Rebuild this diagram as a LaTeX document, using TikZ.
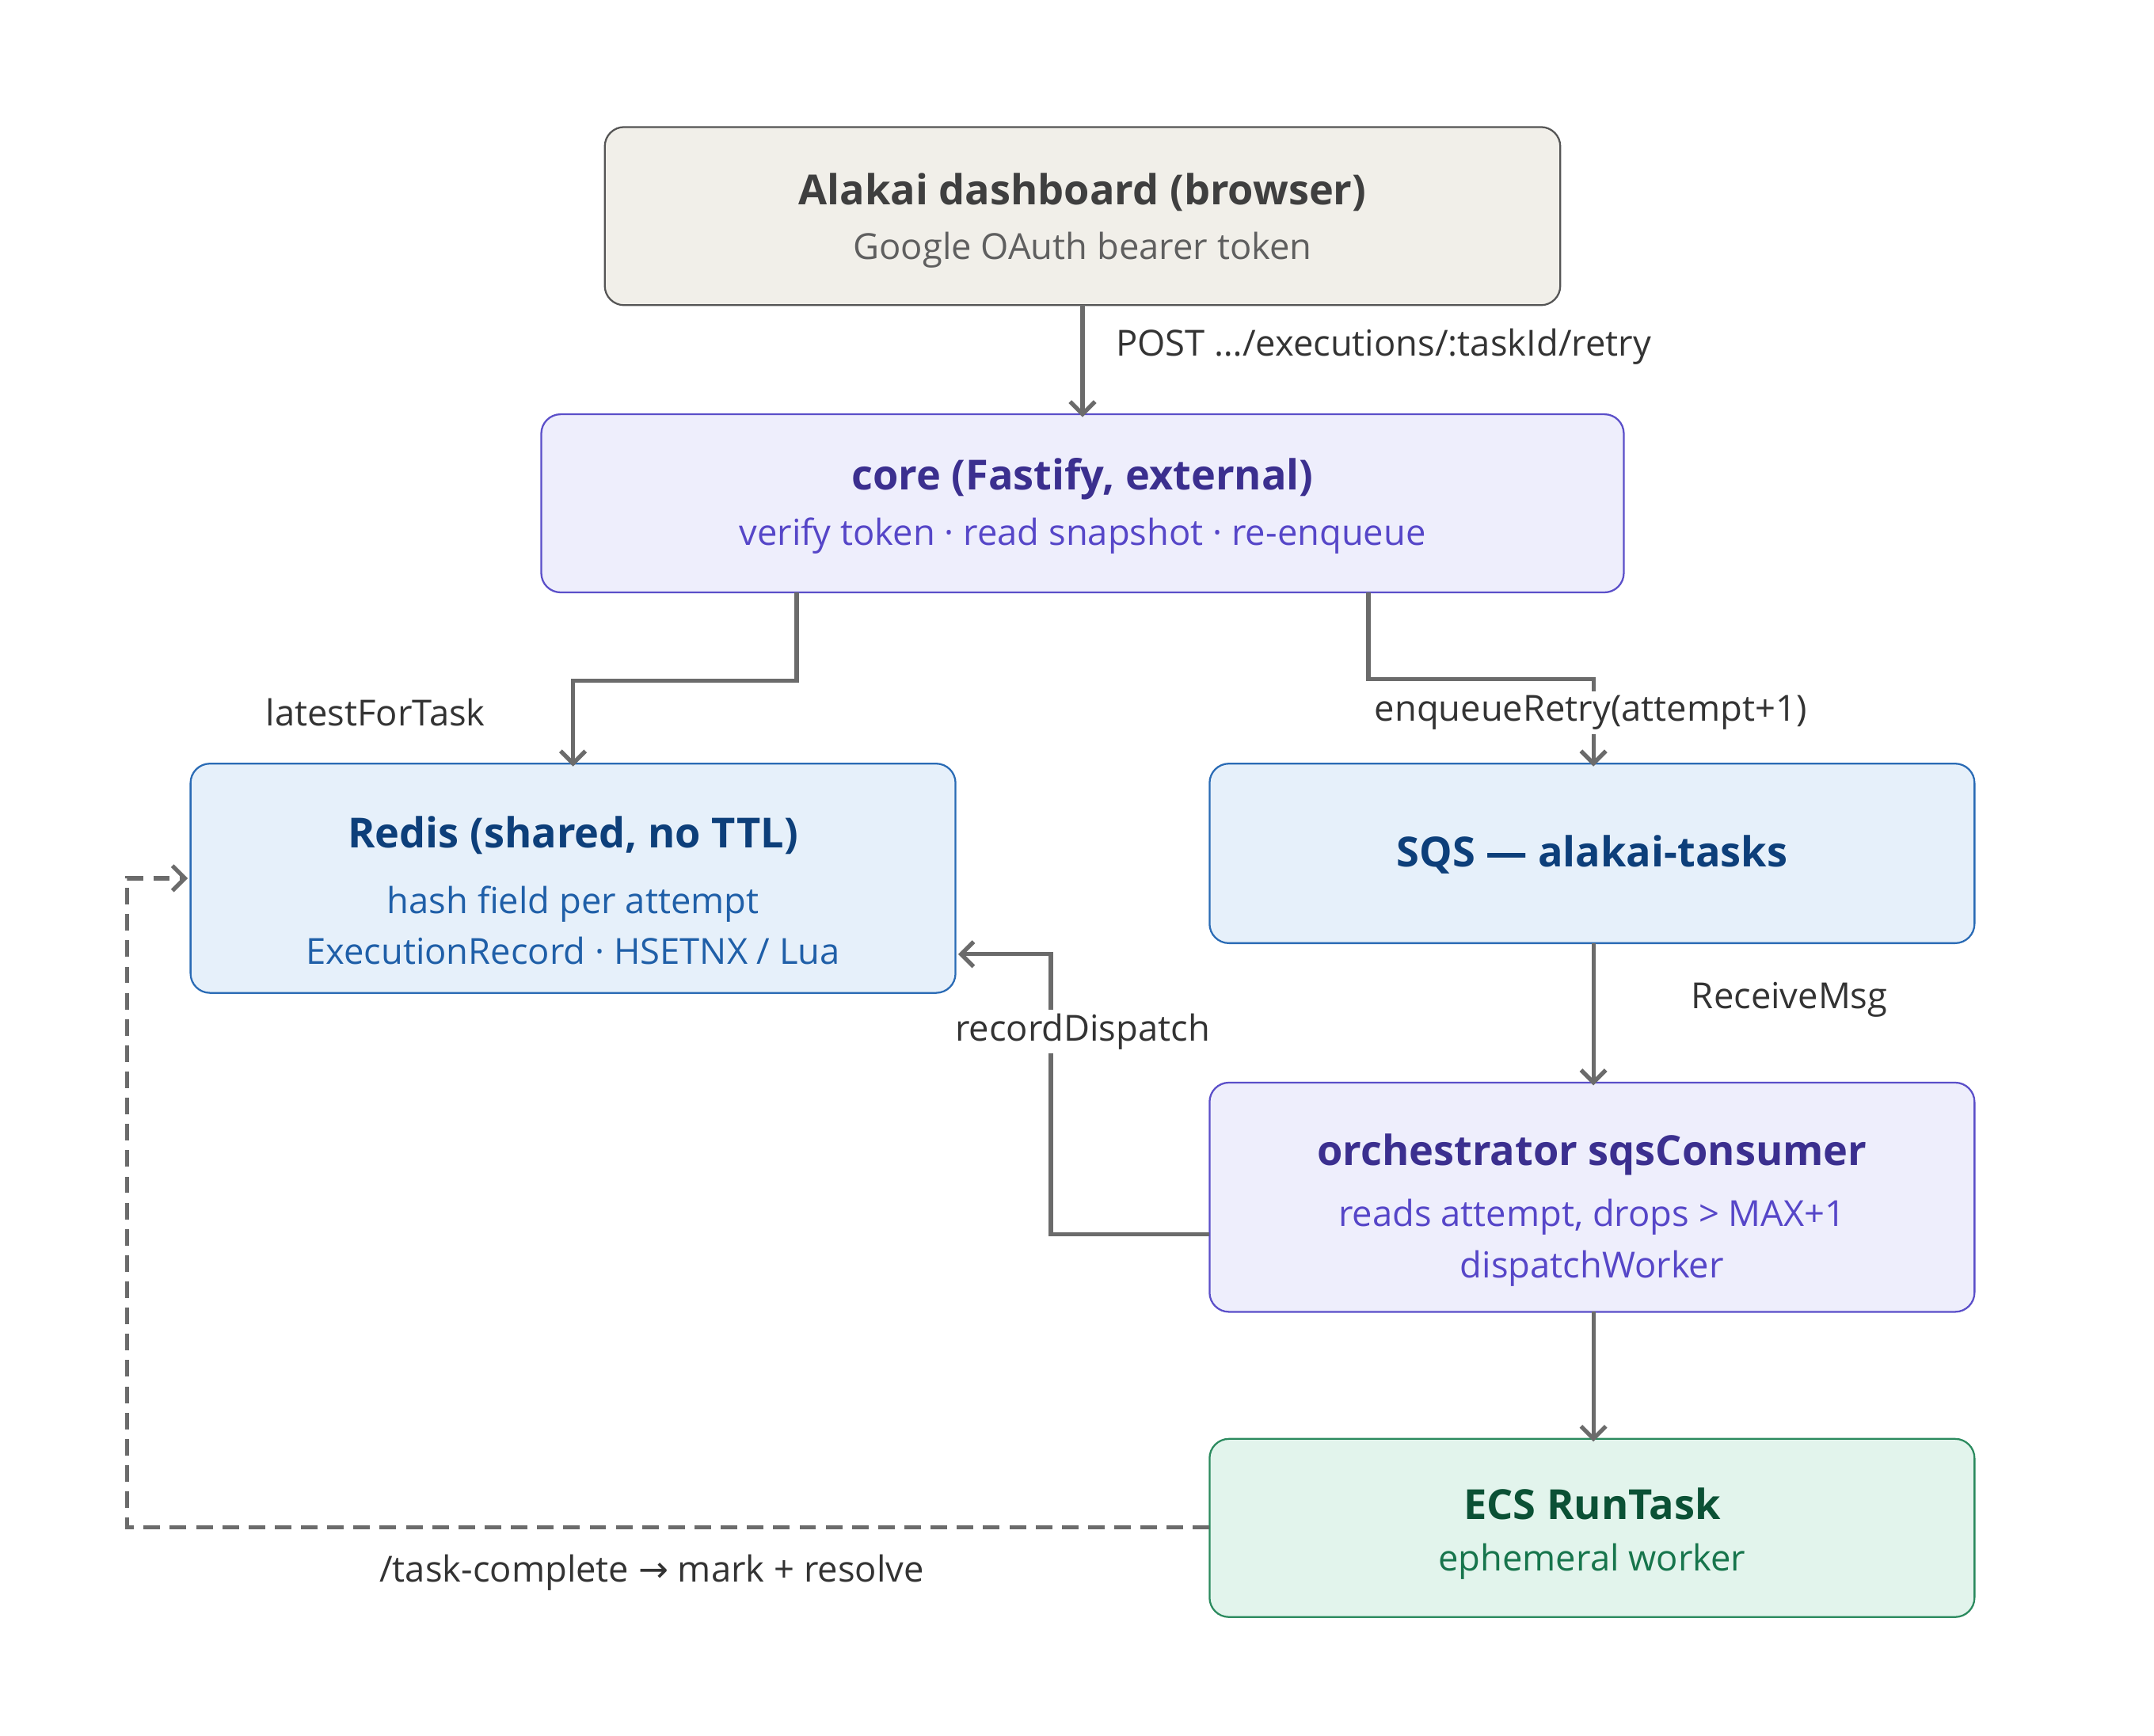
\documentclass[tikz,border=0pt]{standalone}
\usepackage{fontspec}
\setmainfont{Open Sans}
\newfontfamily\symf{DejaVu Sans}
\usetikzlibrary{arrows.meta}
\definecolor{lineg}{HTML}{6B6B6B}
\definecolor{gfill}{HTML}{F1EFE9}\definecolor{gdraw}{HTML}{555555}
\definecolor{gtit}{HTML}{3F3F3F}\definecolor{gsub}{HTML}{5F5F5F}
\definecolor{pfill}{HTML}{EEEEFC}\definecolor{pdraw}{HTML}{5B4FC9}
\definecolor{ptit}{HTML}{3B2F8F}\definecolor{psub}{HTML}{5646C8}
\definecolor{bfill}{HTML}{E6F0FA}\definecolor{bdraw}{HTML}{2A6BB5}
\definecolor{btit}{HTML}{0D3F7A}\definecolor{bsub}{HTML}{1F5FA8}
\definecolor{efill}{HTML}{E2F4EC}\definecolor{edraw}{HTML}{2B8A5E}
\definecolor{etit}{HTML}{0B5135}\definecolor{esub}{HTML}{17754C}
\tikzset{
 box/.style={rounded corners=14pt,line width=1.3pt,inner sep=0pt},
 conn/.style={draw=lineg,line width=3pt,-{Straight Barb[length=9pt,width=18pt,line width=3pt]}},
 lab/.style={font=\fontsize{26}{30}\selectfont,text=black!80,inner sep=3pt},
 tit/.style={font=\fontsize{30}{36}\selectfont\bfseries},
 sub/.style={font=\fontsize{26}{37}\selectfont,align=center}
}
\begin{document}
\begin{tikzpicture}[x=1pt,y=-1pt]
\useasboundingbox (0,0) rectangle (1560,1257);
% boxes
\draw[box,fill=gfill,draw=gdraw] (438,92) rectangle (1130,221);
\node[tit,text=gtit] (dt) at (784,139) {Alakai dashboard (browser)};
\node[sub,text=gsub] (ds) at (784,181) {Google OAuth bearer token};
\coordinate (dash) at (784,221);

\draw[box,fill=pfill,draw=pdraw] (392,300) rectangle (1176,429);
\node[tit,text=ptit] (ct) at (784,347) {core (Fastify, external)};
\node[sub,text=psub] (cs) at (784,388) {verify token · read snapshot · re-enqueue};
\coordinate (coreT) at (784,300);
\coordinate (coreL) at (577,429);
\coordinate (coreR) at (991,429);

\draw[box,fill=bfill,draw=bdraw] (138,553) rectangle (692,719);
\node[tit,text=btit] (rt) at (415,605) {Redis (shared, no TTL)};
\node[sub,text=bsub] (rs) at (415,670) {hash field per attempt\\ExecutionRecord · HSETNX / Lua};
\coordinate (redT) at (415,553);
\coordinate (redR) at (692,691);
\coordinate (redL) at (138,636);

\draw[box,fill=bfill,draw=bdraw] (876,553) rectangle (1430,683);
\node[tit,text=btit] (st) at (1153,619) {SQS — alakai-tasks};
\coordinate (sqsT) at (1154,553);
\coordinate (sqsB) at (1154,683);

\draw[box,fill=pfill,draw=pdraw] (876,784) rectangle (1430,950);
\node[tit,text=ptit] (ot) at (1153,836) {orchestrator sqsConsumer};
\node[sub,text=psub] (os) at (1153,900) {reads attempt, drops > MAX+1\\dispatchWorker};
\coordinate (orT) at (1154,784);
\coordinate (orB) at (1154,950);
\coordinate (orL) at (876,894);

\draw[box,fill=efill,draw=edraw] (876,1042) rectangle (1430,1171);
\node[tit,text=etit] (et) at (1153,1089) {ECS RunTask};
\node[sub,text=esub] (es) at (1153,1131) {ephemeral worker};
\coordinate (ecT) at (1154,1042);
\coordinate (ecL) at (876,1106);

% connectors
\draw[conn] (dash) -- ([yshift=-2pt]coreT);
\node[lab,anchor=west] (l1) at (805,251) {POST …/executions/:taskId/retry};
\draw[conn] (coreL) -- (577,493) -- (415,493) -- ([yshift=-2pt]redT);
\node[lab] (l2) at (272,516) {latestForTask};
\draw[conn] (coreR) -- (991,492) -- (1154,492) -- ([yshift=-2pt]sqsT);
\node[lab,fill=white] (l3) at (1152,516) {enqueueRetry(attempt+1)};
\draw[conn] (sqsB) -- ([yshift=-2pt]orT);
\node[lab] (l4) at (1296,724) {ReceiveMsg};
\draw[conn] (orL) -- (761,894) -- (761,691) -- ([xshift=2pt]redR);
\node[lab,fill=white] (l5) at (784,747) {recordDispatch};
\draw[conn] (orB) -- ([yshift=-2pt]ecT);
\draw[conn,dashed,dash pattern=on 12pt off 7pt] (ecL) -- (92,1106) -- (92,636) -- ([xshift=-2pt]redL);
\node[lab] (l6) at (472,1139) {/task-complete {\symf →} mark + resolve};
\end{tikzpicture}
\end{document}
